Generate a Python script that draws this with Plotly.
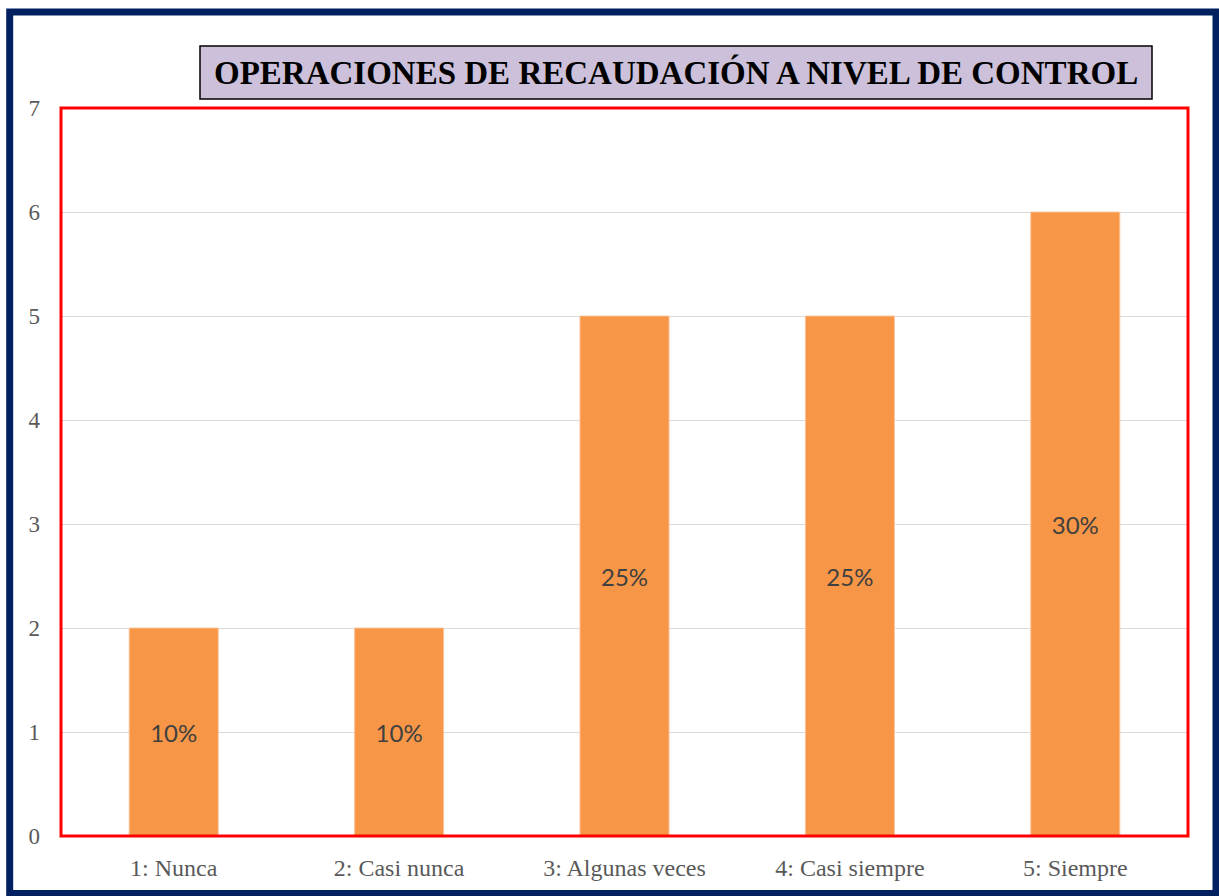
import plotly.graph_objects as go

categories = ["1: Nunca", "2: Casi nunca", "3: Algunas veces", "4: Casi siempre", "5: Siempre"]
counts = [2, 2, 5, 5, 6]
percent_labels = ["10%", "10%", "25%", "25%", "30%"]
y_ticks = [0, 1, 2, 3, 4, 5, 6, 7]
title_text = "OPERACIONES DE RECAUDACIÓN A NIVEL DE CONTROL"

W, H = 1219, 896
L, R, T, B = 61, 31, 108, 60
pw, ph = W - L - R, H - T - B

def px(x):
    return (x - L) / pw

def py(y):
    return (H - B - y) / ph

fig = go.Figure()
fig.add_trace(go.Bar(
    x=categories, y=counts, text=percent_labels,
    textposition="inside", insidetextanchor="middle",
    textfont=dict(family="Lato, Carlito, sans-serif", size=24, color="#404040"),
    marker=dict(color="#F79646", line=dict(color="#FBC49A", width=1)),
    width=0.395, textangle=0, cliponaxis=False,
))

fig.update_layout(
    width=W, height=H,
    margin=dict(l=L, r=R, t=T, b=B),
    paper_bgcolor="white", plot_bgcolor="white",
    showlegend=False,
    xaxis=dict(showgrid=False, showline=False, zeroline=False, ticks="",
               tickfont=dict(family="Liberation Serif, serif", size=24, color="#595959"),
               ticklabelstandoff=15),
    yaxis=dict(range=[0, 7], tickvals=y_ticks, showgrid=True, gridcolor="#D9D9D9",
               gridwidth=1, zeroline=False, showline=False, ticks="",
               tickfont=dict(family="Liberation Serif, serif", size=23, color="#595959"),
               ticklabelstandoff=20),
    shapes=[
        dict(type="rect", xref="paper", yref="paper",
             x0=px(9.7), x1=px(1216), y0=py(893.5), y1=py(12),
             line=dict(color="#002060", width=7), fillcolor="rgba(0,0,0,0)", layer="above"),
        dict(type="rect", xref="paper", yref="paper", x0=0, x1=1, y0=0, y1=1,
             line=dict(color="#FF0000", width=3), fillcolor="rgba(0,0,0,0)", layer="above"),
        dict(type="rect", xref="paper", yref="paper",
             x0=px(200), x1=px(1152), y0=py(99), y1=py(46),
             line=dict(color="#000000", width=1.5), fillcolor="#CCC0DA", layer="above"),
    ],
    annotations=[
        dict(text="<b>" + title_text + "</b>", xref="paper", yref="paper",
             x=px(676), y=py(73), xanchor="center", yanchor="middle", showarrow=False,
             font=dict(family="Liberation Serif, serif", size=33, color="#000000")),
    ],
)

fig.write_html("out.html", config={"displayModeBar": False},
               post_script="document.body.style.margin='0';")
